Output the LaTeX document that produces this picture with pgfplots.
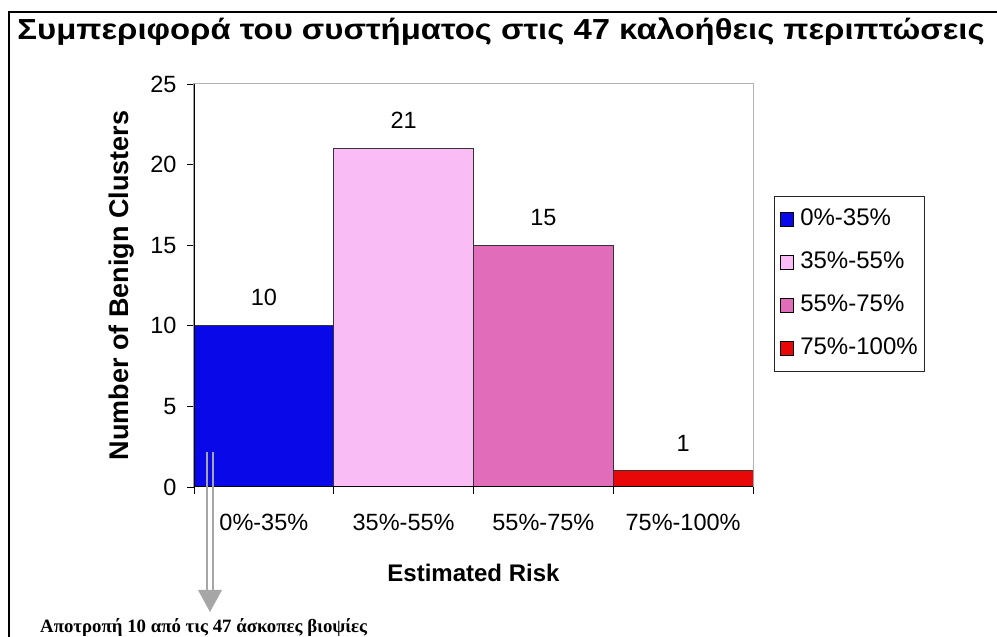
\documentclass[border=0pt]{standalone}
\usepackage{pgfplots}
\pgfplotsset{compat=1.18}
\usepackage{fontspec}
\setmainfont{Liberation Sans}
\newfontfamily\serifb{Liberation Serif}
\definecolor{cblue}{RGB}{8,8,232}
\definecolor{clpink}{RGB}{249,188,244}
\definecolor{cmpink}{RGB}{224,108,186}
\definecolor{cred}{RGB}{232,8,8}
\definecolor{arrgray}{RGB}{166,166,166}
\begin{document}
\begin{tikzpicture}[x=1pt,y=1pt]
\useasboundingbox (0,0) rectangle (997,637);
% frame
\draw[black, line width=2.5pt] (9,0) -- (9,625) -- (997,625);
% title
\node[anchor=base, inner sep=0pt] at (501,597) {\resizebox{967pt}{\height}{\fontsize{29}{32}\selectfont\bfseries Συμπεριφορά του συστήματος στις 47 καλοήθεις περιπτώσεις}};
\begin{axis}[
  at={(194pt,150pt)}, anchor=south west,
  scale only axis, width=559pt, height=403pt,
  xmin=-0.5, xmax=3.5, ymin=0, ymax=25,
  ytick={0,5,10,15,20,25},
  xtick={-0.5,0.5,1.5,2.5,3.5},
  xticklabels={0\%-35\%,35\%-55\%,55\%-75\%,75\%-100\%},
  x tick label as interval,
  tick align=outside, xtick pos=bottom, ytick pos=left,
  major tick length=7pt,
  tick style={black, line width=0.8pt},
  axis line style={draw=gray!60, line width=1pt},
  /pgf/number format/assume math mode=true,
  ticklabel style={font=\fontsize{23.5}{26}\selectfont},
  yticklabel style={xshift=-7pt},
  xticklabel style={yshift=-17pt},
  xlabel={Estimated Risk},
  ylabel={Number of Benign Clusters},
  xlabel style={font=\fontsize{24}{28}\selectfont\bfseries, at={(rel axis cs:0.5,0)}, anchor=center, yshift=-86pt},
  ylabel style={font=\fontsize{27}{30}\selectfont\bfseries, at={(rel axis cs:0,0.5)}, anchor=center, yshift=72pt},
  legend style={at={(1,1)}, anchor=north west, xshift=21pt, yshift=-112pt,
    draw=black!85, line width=1pt, fill=white,
    font=\fontsize{24}{26}\selectfont,
    nodes={inner sep=2pt, text height=16pt, text depth=4pt},
    row sep=19pt, inner xsep=5pt, inner ysep=11pt},
  legend cell align=left,
  legend image code/.code={\draw[#1, draw=black, line width=0.8pt] (0pt,-7pt) rectangle (13pt,7pt);},
  every node near coord/.append style={font=\fontsize{23.5}{26}\selectfont, black, anchor=south, yshift=16pt},
]
\addplot[ybar, bar width=1, bar shift=0pt, fill=cblue, draw=black!80, line width=0.8pt, nodes near coords] coordinates {(0,10)};
\addlegendentry{\hspace{5pt}0\%-35\%}
\addplot[ybar, bar width=1, bar shift=0pt, fill=clpink, draw=black!80, line width=0.8pt, nodes near coords] coordinates {(1,21)};
\addlegendentry{\hspace{5pt}35\%-55\%}
\addplot[ybar, bar width=1, bar shift=0pt, fill=cmpink, draw=black!80, line width=0.8pt, nodes near coords] coordinates {(2,15)};
\addlegendentry{\hspace{5pt}55\%-75\%}
\addplot[ybar, bar width=1, bar shift=0pt, fill=cred, draw=black!80, line width=0.8pt, nodes near coords] coordinates {(3,1)};
\addlegendentry{\hspace{5pt}75\%-100\%}
\draw[black, line width=1.2pt] (rel axis cs:0,1) -- (rel axis cs:0,0) -- (rel axis cs:1,0);
\end{axis}
% arrow
\draw[arrgray, line width=2.5pt] (207,185) -- (207,45);
\draw[arrgray, line width=2.5pt] (213,185) -- (213,45);
\fill[arrgray] (198,47) -- (222,47) -- (210,25) -- cycle;
\node[anchor=base west, inner sep=0pt] at (40,4) {\serifb\bfseries\fontsize{18.8}{20}\selectfont Αποτροπή 10 από τις 47 άσκοπες βιοψίες};
\end{tikzpicture}
\end{document}
